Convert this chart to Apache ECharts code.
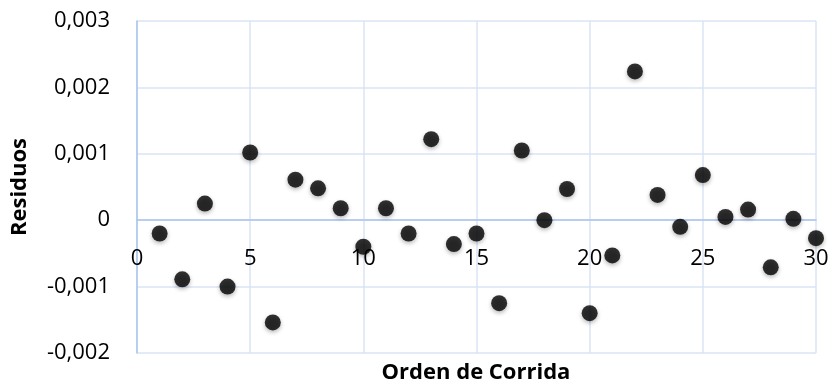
<!DOCTYPE html>
<html>
<head>
<meta charset="utf-8">
<style>
  html, body { margin: 0; padding: 0; background: #ffffff; }
  #chart { width: 828px; height: 387px; }
</style>
<script src="https://cdn.jsdelivr.net/npm/echarts@6/dist/echarts.min.js"></script>
</head>
<body>
<div id="chart"></div>
<script>
// Run order of each experiment
const runOrder = [1, 2, 3, 4, 5, 6, 7, 8, 9, 10, 11, 12, 13, 14, 15,
                  16, 17, 18, 19, 20, 21, 22, 23, 24, 25, 26, 27, 28, 29, 30];
// Residual for each run
const residuals = [-0.00020, -0.00089, 0.00025, -0.00100, 0.00102, -0.00154, 0.00061, 0.00048, 0.00018, -0.00040,
                   0.00018, -0.00020, 0.00122, -0.00036, -0.00020, -0.00125, 0.00105, 0.00000, 0.00047, -0.00140,
                   -0.00053, 0.00224, 0.00038, -0.00010, 0.00068, 0.00005, 0.00016, -0.00071, 0.00002, -0.00027];

const xAxisName = 'Orden de Corrida';
const yAxisName = 'Residuos';

const points = runOrder.map((x, i) => [x, residuals[i]]);

const fontFamily = '"Open Sans", "Liberation Sans", sans-serif';
const gridColor = '#d9e5f5';
const axisColor = '#a9c5ec';

const chart = echarts.init(document.getElementById('chart'), null, { renderer: 'canvas' });

const xRange = { type: 'value', min: 0, max: 30, interval: 5 };

chart.setOption({
  animation: false,
  backgroundColor: '#ffffff',
  grid: { left: 137, right: 12, top: 21, bottom: 34, containLabel: false, outerBoundsMode: 'none' },
  xAxis: [
    {
      // gridlines and the zero line
      ...xRange,
      axisLine: { show: true, onZero: true, lineStyle: { color: axisColor, width: 1.5 } },
      axisTick: { show: false },
      axisLabel: { show: false },
      splitLine: { show: true, lineStyle: { color: gridColor, width: 1.5 } }
    },
    {
      // tick labels sitting just under the zero line
      ...xRange,
      position: 'bottom',
      offset: -133,
      axisLine: { show: false, onZero: false },
      axisTick: { show: false },
      splitLine: { show: false },
      axisLabel: {
        margin: 28,
        fontSize: 22,
        color: '#000000',
        fontFamily: fontFamily
      }
    }
  ],
  yAxis: {
    type: 'value',
    min: -0.002,
    max: 0.003,
    interval: 0.001,
    axisLine: { show: true, lineStyle: { color: axisColor, width: 1.5 } },
    axisTick: { show: false },
    axisLabel: {
      margin: 27,
      fontSize: 22,
      color: '#000000',
      fontFamily: fontFamily,
      formatter: v => {
        if (Math.abs(v) < 1e-12) return '0';
        return v.toFixed(3).replace('.', ',');
      }
    },
    splitLine: { show: true, lineStyle: { color: gridColor, width: 1.5 } }
  },
  graphic: [
    {
      type: 'text',
      x: 476,
      y: 373,
      style: {
        text: xAxisName,
        align: 'center',
        verticalAlign: 'middle',
        fontSize: 22,
        fontWeight: 'bold',
        fill: '#000000',
        fontFamily: fontFamily
      }
    },
    {
      type: 'text',
      x: 20,
      y: 187,
      rotation: Math.PI / 2,
      style: {
        text: yAxisName,
        align: 'center',
        verticalAlign: 'middle',
        fontSize: 22,
        fontWeight: 'bold',
        fill: '#000000',
        fontFamily: fontFamily
      }
    }
  ],
  series: [
    {
      type: 'scatter',
      xAxisIndex: 0,
      data: points,
      symbol: 'circle',
      symbolSize: 16,
      itemStyle: {
        color: '#000000',
        shadowColor: 'rgba(0,0,0,0.35)',
        shadowBlur: 4,
        shadowOffsetY: 2
      },
      z: 5
    }
  ]
});
</script>
</body>
</html>
